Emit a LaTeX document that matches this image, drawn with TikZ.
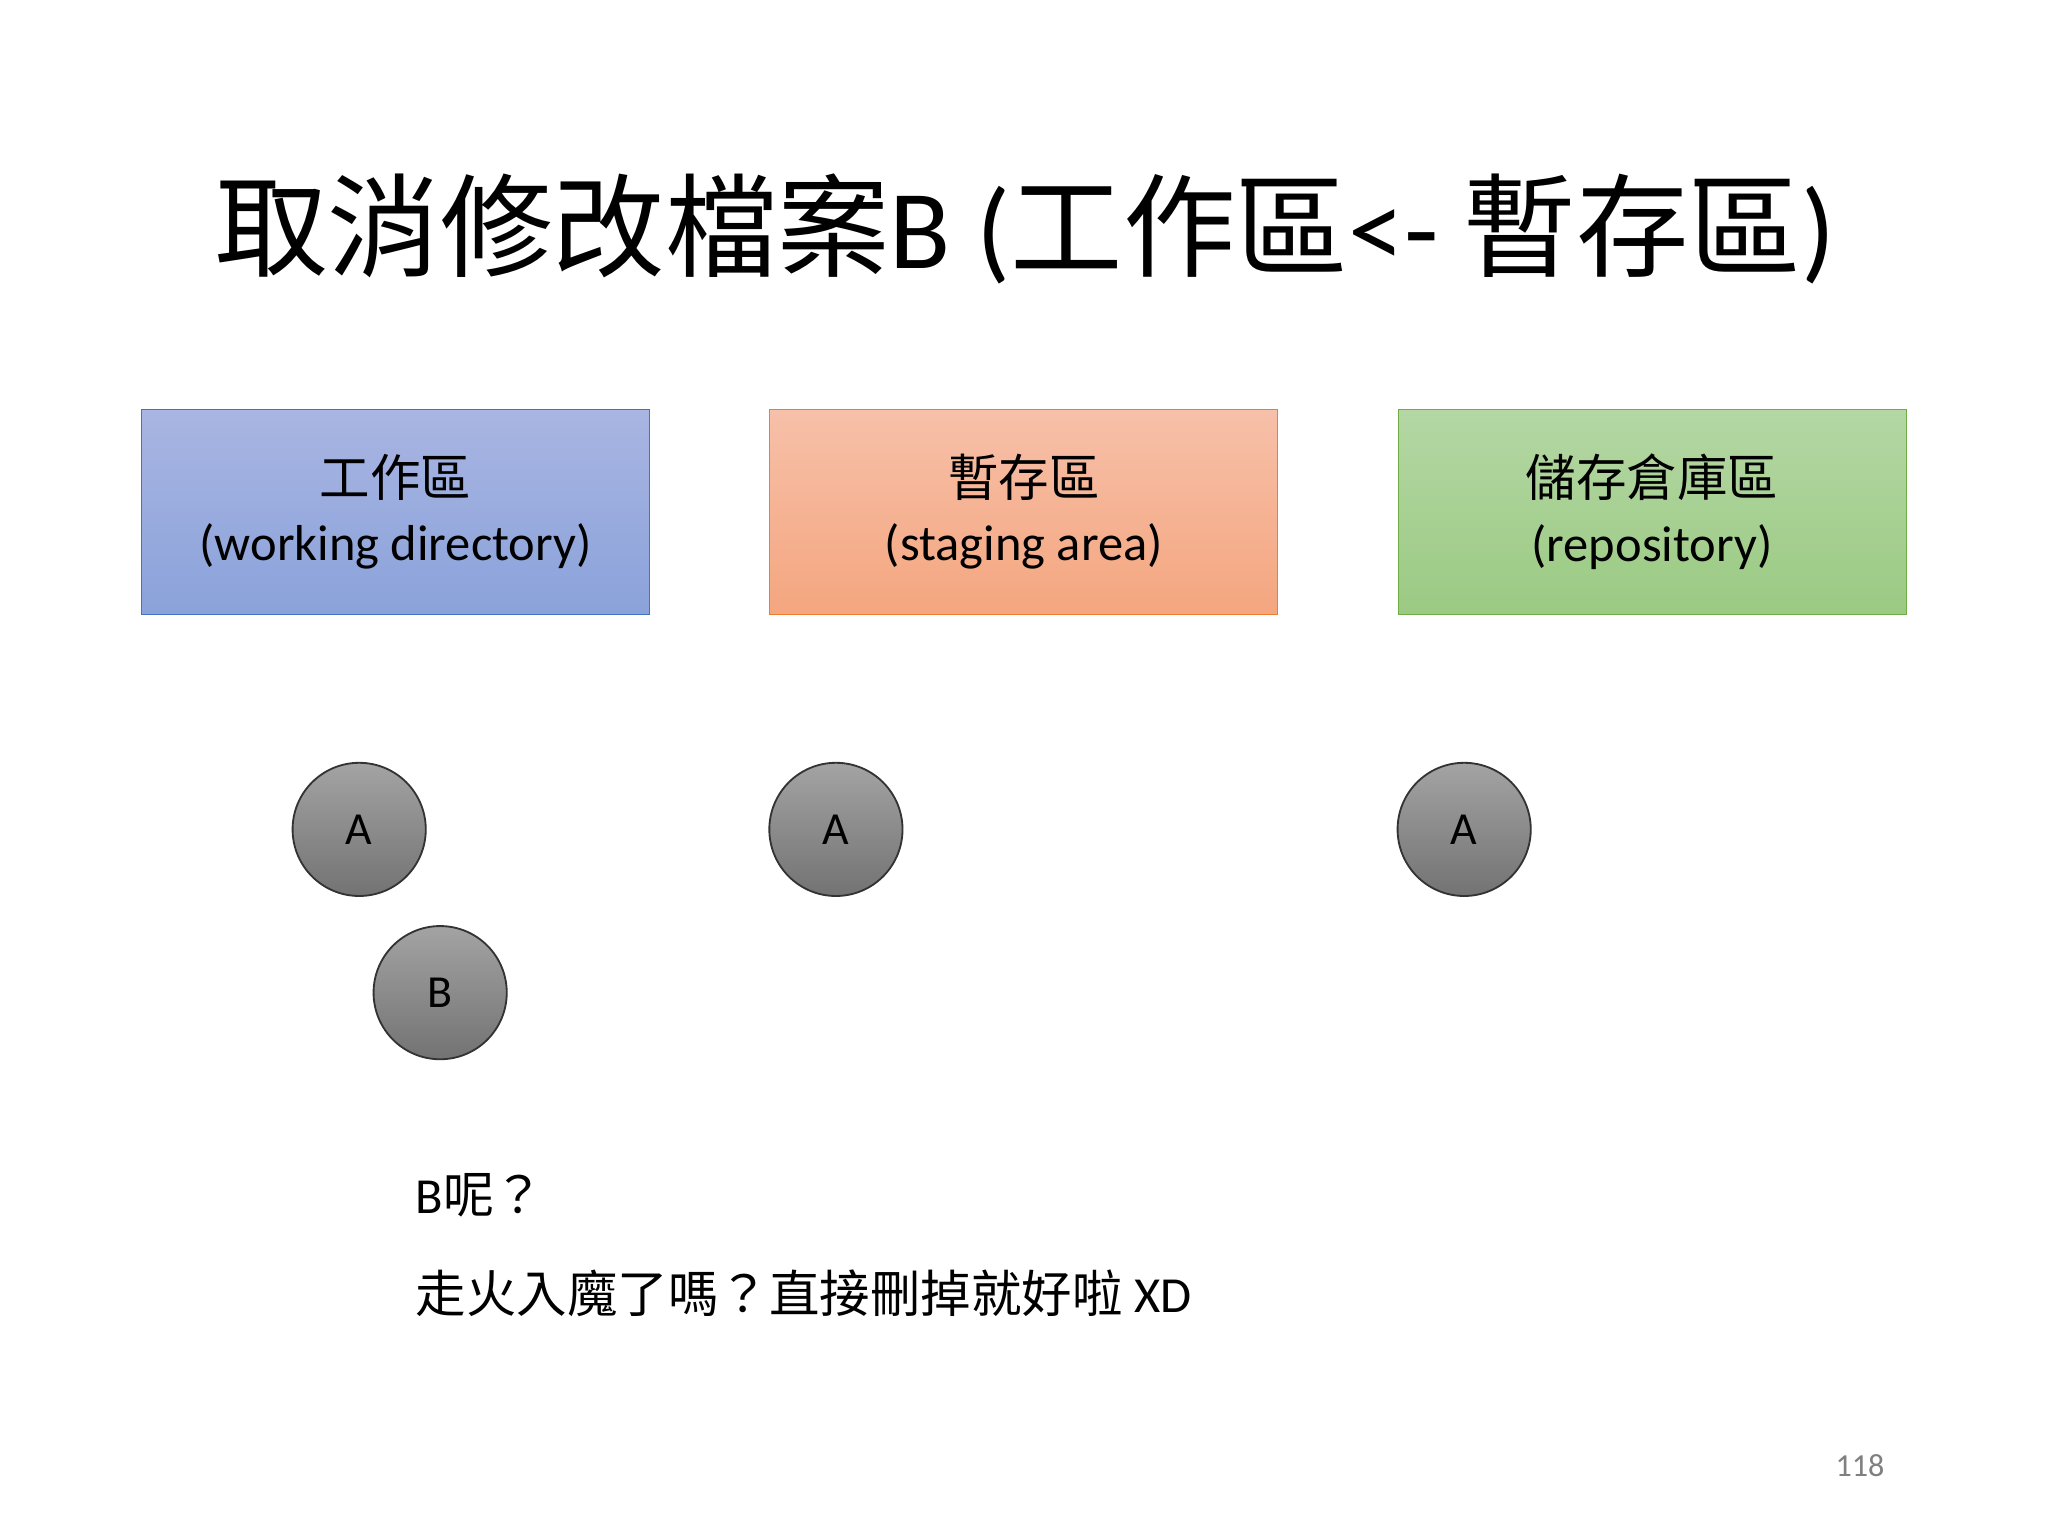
\documentclass[tikz,border=0pt]{standalone}
\usepackage{fontspec}
\setmainfont{Carlito}
\newfontfamily\cjk{Noto Sans CJK TC}
\definecolor{bluet}{HTML}{A9B5E2}\definecolor{blueb}{HTML}{8AA2DA}
\definecolor{oranget}{HTML}{F7C0A9}\definecolor{orangeb}{HTML}{F4A67F}
\definecolor{greent}{HTML}{B4D7A4}\definecolor{greenb}{HTML}{9BCA83}
\definecolor{blued}{HTML}{4472C4}\definecolor{oranged}{HTML}{ED7D31}\definecolor{greend}{HTML}{70AD47}
\tikzset{
 area/.style={minimum width=7.78cm,minimum height=3.14cm,align=center,font=\fontsize{22}{28}\selectfont,inner sep=0pt,anchor=north west},
 file/.style={circle,draw=black!80,line width=0.8pt,minimum size=2.04cm,top color=gray!40!black!45,bottom color=black!55,font=\fontsize{20}{24}\selectfont,inner sep=0pt},
 note/.style={anchor=west,font=\fontsize{22}{26}\selectfont,inner sep=0pt}
}
\begin{document}
\begin{tikzpicture}[x=0.02cm,y=-0.02cm]
\useasboundingbox (0,0) rectangle (1568,1176);
\node (title) at (785,175) {\fontsize{49}{58}\selectfont\cjk 取消修改檔案\fontspec{Carlito}B (\cjk 工作區\fontspec{Carlito}<- \cjk 暫存區\fontspec{Carlito})};
\node[area,draw=blued,top color=bluet,bottom color=blueb] (wd) at (108,313) {{\cjk 工作區}\\(working directory)};
\node[area,draw=oranged,top color=oranget,bottom color=orangeb] (sa) at (589,313) {{\cjk 暫存區}\\(staging area)};
\node[area,draw=greend,top color=greent,bottom color=greenb] (repo) at (1070,313) {{\cjk 儲存倉庫區}\\(repository)};
\node[file] (a1) at (275,635) {A};
\node[file] (b1) at (337,760) {B};
\node[file] (a2) at (640,635) {A};
\node[file] (a3) at (1121,635) {A};
\node[note] (q) at (318,915) {B{\cjk 呢？}};
\node[note] (ans) at (318,990) {{\cjk 走火入魔了嗎？直接刪掉就好啦} XD};
\node[font=\fontsize{14}{16}\selectfont,text=gray] (pg) at (1424,1122) {118};
\end{tikzpicture}
\end{document}
